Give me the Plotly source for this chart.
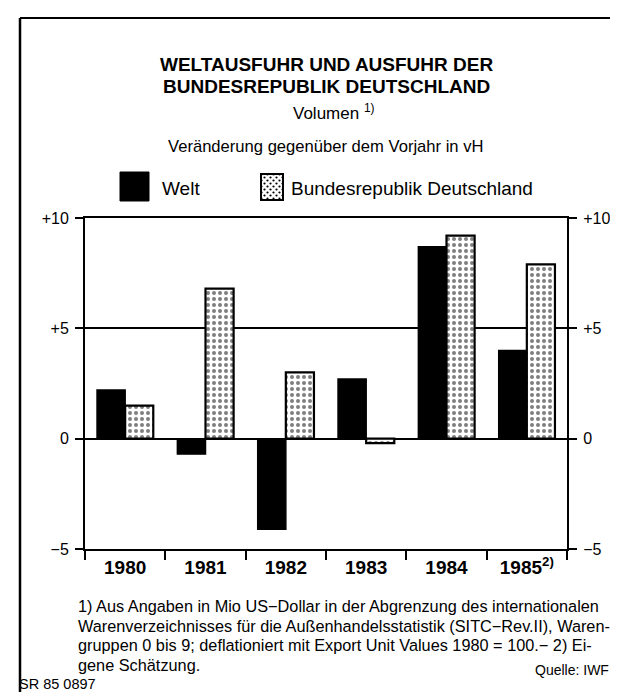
import base64
import plotly.graph_objects as go

# ---------------- data ----------------
YEARS = ["1980", "1981", "1982", "1983", "1984", "1985"]
YEAR_LABELS = ["1980", "1981", "1982", "1983", "1984", "1985<sup>2)</sup>"]
WELT = [2.2, -0.7, -4.1, 2.7, 8.7, 4.0]
BRD = [1.5, 6.8, 3.0, -0.2, 9.2, 7.9]
Y_TICKS = [-5, 0, 5, 10]
Y_TICK_LABELS = ["−5", "0", "+5", "+10"]
SERIES_NAMES = ["Welt", "Bundesrepublik Deutschland"]
FOOTNOTE_LINES = [
    "1) Aus Angaben in Mio US−Dollar in der Abgrenzung des internationalen",
    "Warenverzeichnisses für die Außenhandelsstatistik (SITC−Rev.II), Waren-",
    "gruppen 0 bis 9; deflationiert mit Export Unit Values 1980 = 100.− 2) Ei-",
    "gene Schätzung.",
]

# ---------------- geometry ----------------
W, H = 618, 692
L, R, T, B = 77, 559, 210, 541  # plot area in px


def px(xp):
    return (xp - L) / (R - L)


def py(yp):
    return (B - yp) / (B - T)


FONT = "Liberation Sans, Arial, sans-serif"

fig = go.Figure()
fig.add_bar(
    x=YEARS, y=WELT, name=SERIES_NAMES[0], showlegend=False,
    marker=dict(color="black", line=dict(color="black", width=1.5)),
    hoverinfo="skip",
)
fig.add_bar(
    x=YEARS, y=BRD, name=SERIES_NAMES[1], showlegend=False,
    marker=dict(
        color="white",
        line=dict(color="black", width=2.2),
        pattern=dict(shape=".", fgcolor="black", bgcolor="white", size=6, solidity=0.35),
    ),
    hoverinfo="skip",
)
# helper (no visible marks) so that the right-hand axis is drawn
fig.add_scatter(x=YEARS, y=WELT, yaxis="y2", mode="none", showlegend=False, hoverinfo="skip")

annotations = [
    dict(text="<b>WELTAUSFUHR UND AUSFUHR DER</b>", x=px(318), y=py(56), font=dict(size=19)),
    dict(text="<b>BUNDESREPUBLIK DEUTSCHLAND</b>", x=px(318), y=py(78), font=dict(size=19)),
    dict(text="Volumen <sup>1)</sup>", x=px(326), y=py(104), font=dict(size=17)),
    dict(text="Veränderung gegenüber dem Vorjahr in vH", x=px(318), y=py(138),
         font=dict(size=16.6)),
    # legend texts
    dict(text=SERIES_NAMES[0], x=px(152), y=py(180), xanchor="left", font=dict(size=19)),
    dict(text=SERIES_NAMES[1], x=px(281), y=py(180), xanchor="left", font=dict(size=19)),
    dict(text="Quelle: IWF", x=px(603), y=py(662), xanchor="right", font=dict(size=14)),
    dict(text="SR 85 0897", x=px(9), y=py(676), xanchor="left", font=dict(size=14.5)),
]
for i, line in enumerate(FOOTNOTE_LINES):
    annotations.append(dict(text=line, x=px(68), y=py(598 + 19.5 * i), xanchor="left",
                            font=dict(size=16.3)))
for a in annotations:
    a.setdefault("xanchor", "center")
    a.setdefault("yanchor", "middle")
    a.update(xref="paper", yref="paper", showarrow=False)
    a["font"].update(color="black", family=FONT)

shapes = [
    # outer frame (top and left)
    dict(type="line", xref="paper", yref="paper", x0=px(12), x1=px(618), y0=py(10), y1=py(10),
         line=dict(color="black", width=2)),
    dict(type="line", xref="paper", yref="paper", x0=px(12), x1=px(12), y0=py(10), y1=py(700),
         line=dict(color="black", width=2.5)),
    # legend key for "Welt"
    dict(type="rect", xref="paper", yref="paper", x0=px(112), x1=px(141), y0=py(164), y1=py(193),
         fillcolor="black", line=dict(color="black", width=1)),
]

# legend key for the dotted series (pattern as inline SVG image)
svg = (
    "<svg xmlns='http://www.w3.org/2000/svg' width='24' height='28' viewBox='0 0 24 28'>"
    "<defs><pattern id='p' width='6' height='6' patternUnits='userSpaceOnUse'>"
    "<circle cx='1.5' cy='1.5' r='1.1' fill='black'/>"
    "<circle cx='4.5' cy='4.5' r='1.1' fill='black'/></pattern></defs>"
    "<rect x='1' y='1' width='22' height='26' fill='white'/>"
    "<rect x='1' y='1' width='22' height='26' fill='url(#p)' stroke='black' stroke-width='2'/>"
    "</svg>"
)
src = "data:image/svg+xml;base64," + base64.b64encode(svg.encode()).decode()
images = [dict(source=src, xref="paper", yref="paper", x=px(252), y=py(165),
               sizex=px(276) - px(252), sizey=py(165) - py(193),
               xanchor="left", yanchor="top", sizing="stretch", layer="above")]

fig.update_layout(
    width=W, height=H,
    margin=dict(l=L, r=W - R, t=T, b=H - B, pad=0),
    paper_bgcolor="white", plot_bgcolor="white",
    font=dict(family=FONT, color="black", size=15),
    barmode="group", bargap=0.3, bargroupgap=0,
    showlegend=False,
    annotations=annotations, shapes=shapes, images=images,
    xaxis=dict(
        type="category", range=[-0.5, 5.5], tickson="boundaries",
        tickvals=YEARS, ticktext=YEAR_LABELS,
        ticks="outside", ticklen=9, tickwidth=1.5, tickcolor="black",
        showline=True, linecolor="black", linewidth=2, mirror=True,
        showgrid=False, tickfont=dict(size=19, weight="bold"),
    ),
    yaxis=dict(
        range=[-5, 10], tickvals=Y_TICKS, ticktext=Y_TICK_LABELS,
        ticks="outside", ticklen=8, tickwidth=1.5, tickcolor="black",
        showline=True, linecolor="black", linewidth=2,
        showgrid=True, gridcolor="black", gridwidth=1.5, zeroline=False,
        tickfont=dict(size=16), ticklabelstandoff=3,
    ),
    yaxis2=dict(
        overlaying="y", side="right",
        range=[-5, 10], tickvals=Y_TICKS, ticktext=Y_TICK_LABELS,
        ticks="outside", ticklen=8, tickwidth=1.5, tickcolor="black",
        showline=True, linecolor="black", linewidth=2,
        showgrid=False, zeroline=False, tickfont=dict(size=16), ticklabelstandoff=3,
    ),
)

fig.write_html("out.html")
